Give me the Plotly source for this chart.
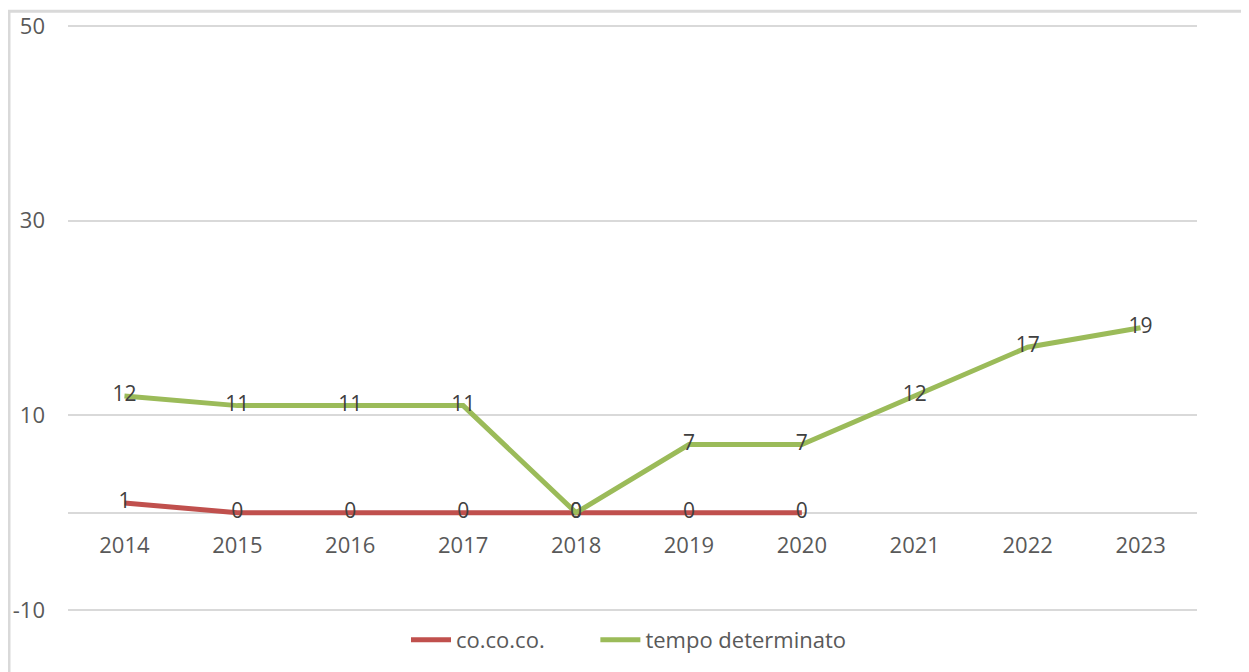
import plotly.graph_objects as go

years = ["2014", "2015", "2016", "2017", "2018", "2019", "2020", "2021", "2022", "2023"]
cococo_years = ["2014", "2015", "2016", "2017", "2018", "2019", "2020"]
cococo = [1, 0, 0, 0, 0, 0, 0]
tempo_det = [12, 11, 11, 11, 0, 7, 7, 12, 17, 19]
y_ticks = [-10, 10, 30, 50]
y_tick_text = ["-10", "10", "30", "50"]
series_names = ["co.co.co.", "tempo determinato"]

FONT = "Open Sans"
OFF = 8  # page body margin
W, H = 1249, 672
PAD = 0.3
Y0, Y1 = -10 - PAD, 50 + PAD
UNIT = (610 - 25.7) / 60.0
top_s = 25.7 - PAD * UNIT
bot_s = 610 + PAD * UNIT
L, R = 68 - OFF, W - (1197 - OFF)
T, B = top_s - OFF, H - (bot_s - OFF)
pw, ph = W - L - R, H - T - B


def px_x(x):
    return (x - OFF - L) / pw


def px_y(y):
    return (H - B - (y - OFF)) / ph


fig = go.Figure()
fig.add_trace(go.Scatter(
    x=cococo_years, y=cococo, name=series_names[0] + "\u00a0" * 8, mode="lines+text",
    text=[str(v) for v in cococo], textposition="middle center",
    textfont=dict(family=FONT, size=21, color="#404040"),
    line=dict(color="#C0504D", width=5),
))
fig.add_trace(go.Scatter(
    x=years, y=tempo_det, name=series_names[1], mode="lines+text",
    text=[str(v) for v in tempo_det], textposition="middle center",
    textfont=dict(family=FONT, size=21, color="#404040"),
    line=dict(color="#9BBB59", width=5),
))

fig.update_layout(
    width=W, height=H,
    margin=dict(l=L, r=R, t=T, b=B, autoexpand=False),
    paper_bgcolor="white", plot_bgcolor="white",
    font=dict(family=FONT, size=22, color="#595959"),
    showlegend=True,
    legend=dict(orientation="h", x=px_x(406), xanchor="left", y=px_y(640), yanchor="middle",
                font=dict(family=FONT, size=22, color="#595959"), itemwidth=40,
                bgcolor="rgba(0,0,0,0)"),
    xaxis=dict(type="category", categoryorder="array", categoryarray=years,
               range=[-0.5, 9.5], showgrid=False, showline=False, zeroline=False,
               anchor="free", position=(0 - Y0) / (Y1 - Y0), ticks="", ticklabelstandoff=17,
               tickfont=dict(family=FONT, size=22, color="#595959")),
    yaxis=dict(range=[Y0, Y1], tickvals=y_ticks, ticktext=y_tick_text, showgrid=True,
               gridcolor="#D9D9D9", gridwidth=1.5, zeroline=True, zerolinecolor="#D9D9D9",
               zerolinewidth=1.5, showline=False, ticks="", ticklabelstandoff=22,
               tickfont=dict(family=FONT, size=22, color="#595959")),
    shapes=[dict(type="rect", xref="paper", yref="paper",
                 x0=px_x(9), x1=px_x(1262), y0=px_y(700), y1=px_y(11),
                 line=dict(color="#D9D9D9", width=3), layer="below")],
)

fig.write_html("out.html")
